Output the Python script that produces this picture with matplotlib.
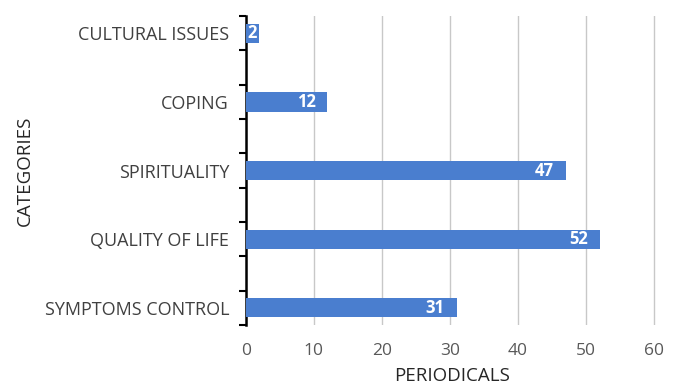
import matplotlib.pyplot as plt
from matplotlib.ticker import FixedLocator

categories = ["CULTURAL ISSUES", "COPING", "SPIRITUALITY", "QUALITY OF LIFE", "SYMPTOMS CONTROL"]
periodicals = [2, 12, 47, 52, 31]
x_ticks = [0, 10, 20, 30, 40, 50, 60]

plt.rcParams['font.family'] = ['Open Sans', 'DejaVu Sans']

fig = plt.figure(figsize=(6.75, 3.85), dpi=100)
ax = fig.add_axes([0.364, 0.156, 0.610, 0.802])

pos = list(range(len(categories)))
ax.barh(pos, periodicals, height=0.28, color="#4a7ecf", zorder=3)

# value labels inside the bar end, pushed right when the bar is too short
for y, v in zip(pos, periodicals):
    if v - 1.75 < 2:
        ax.text(0.3, y, str(v), ha="left", va="center", color="white",
                fontsize=12, fontweight="bold", zorder=4)
    else:
        ax.text(v - 1.75, y, str(v), ha="right", va="center", color="white",
                fontsize=12, fontweight="bold", zorder=4)

ax.set_ylim(len(categories) - 0.75, -0.25)
ax.set_xlim(0, 60.5)
ax.set_yticks(pos)
ax.set_yticklabels(categories, fontsize=13, color="#404040")
ax.tick_params(axis="y", which="major", length=0, pad=12)
ax.yaxis.set_minor_locator(FixedLocator([p + d for p in pos for d in (-0.25, 0.25)]))
ax.tick_params(axis="y", which="minor", length=5, width=1.5, color="black")

ax.set_xticks(x_ticks)
ax.tick_params(axis="x", length=0, labelsize=12.5, labelcolor="#595959", pad=13)
ax.grid(axis="x", color="#c8c8c8", linewidth=1, zorder=0)
ax.set_axisbelow(True)

for s in ["top", "right", "bottom"]:
    ax.spines[s].set_visible(False)
ax.spines["left"].set_linewidth(1.8)
ax.spines["left"].set_color("black")

ax.set_xlabel("PERIODICALS", fontsize=13.5, color="#262626", labelpad=6)
ax.set_ylabel("CATEGORIES", fontsize=13.5, color="#262626", labelpad=8)

fig.savefig("out.png", dpi=100)
